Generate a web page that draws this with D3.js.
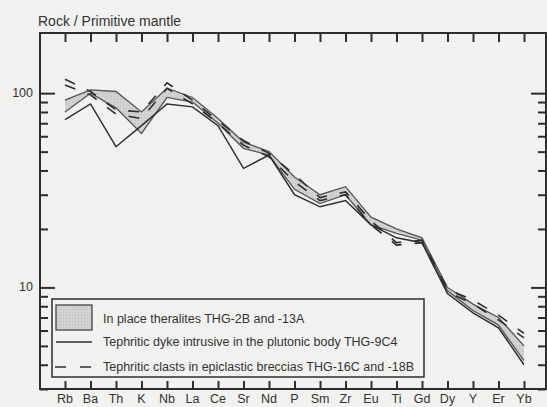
<!DOCTYPE html>
<html>
<head>
<meta charset="utf-8">
<script src="https://cdn.jsdelivr.net/npm/d3@7"></script>
<style>
  body { margin: 0; background: #f1f1ef; }
  text { font-family: "Liberation Sans", Arial, sans-serif; fill: #333; }
</style>
</head>
<body>
<script>
// elements on the x axis
var elements = ["Rb","Ba","Th","K","Nb","La","Ce","Sr","Nd","P","Sm","Zr","Eu","Ti","Gd","Dy","Y","Er","Yb"];

// theralites (shaded envelope)
var thg2B  = [92,104,102,80,106,95,74,56,50,37,30,33,23,20,18,10,8.2,7.0,5.0];
var thg13A = [80,100,84,62,95,90,70,52,48,32,27,30,21,19,17.5,9.6,7.6,6.4,4.2];
// dyke (solid)
var thg9C4 = [73,88,53,68,88,85,68,41,48,30,26,28,21,18,17,9.3,7.4,6.2,4.0];
// clasts (dashed)
var thg16C = [118,102,82,80,113,92,72,57,49,38,29,31,22,17,17.5,9.8,8.6,7.2,5.8];
var thg18B = [110,98,78,74,106,88,70,54,47,35,28,30,21,16.5,17,9.5,8.2,6.8,5.5];

var yMajor = [10,100];
var yMinor = [3,4,5,6,7,8,9,20,30,40,50,60,70,80,90];

var legendLabels = [
  "In place theralites THG-2B and -13A",
  "Tephritic dyke intrusive in the plutonic body THG-9C4",
  "Tephritic clasts in epiclastic breccias THG-16C and -18B"
];

function init(){
    var w = 547, h = 407;
    var left = 40, right = 546, top = 33, bottom = 389;

    var svg = d3.select("body").append("svg")
        .attr("width", w).attr("height", h);

    var x = d3.scalePoint().domain(elements).range([65, 524]);
    var y = d3.scaleLog().domain([3, 204]).range([bottom, top]);

    var ink = "#2e2e2e";

    // shaded band between the two theralites
    var pat = svg.append("defs").append("pattern")
        .attr("id", "dots").attr("width", 3).attr("height", 3)
        .attr("patternUnits", "userSpaceOnUse");
    pat.append("rect").attr("width", 3).attr("height", 3).attr("fill", "#d2d2d0");
    pat.append("rect").attr("width", 1).attr("height", 1).attr("fill", "#bdbdbb");

    var band = d3.area()
        .x(function(d, i){ return x(elements[i]); })
        .y0(function(d, i){ return y(thg13A[i]); })
        .y1(function(d){ return y(d); });

    svg.append("path").datum(thg2B)
        .attr("d", band).attr("fill", "url(#dots)");

    var line = d3.line()
        .x(function(d, i){ return x(elements[i]); })
        .y(function(d){ return y(d); });

    [thg2B, thg13A].forEach(function(s){
        svg.append("path").datum(s).attr("d", line)
            .attr("fill", "none").attr("stroke", "#555").attr("stroke-width", 1.3);
    });
    svg.append("path").datum(thg9C4).attr("d", line)
        .attr("fill", "none").attr("stroke", ink).attr("stroke-width", 1.5);
    [thg16C, thg18B].forEach(function(s){
        svg.append("path").datum(s).attr("d", line)
            .attr("fill", "none").attr("stroke", ink).attr("stroke-width", 1.6)
            .attr("stroke-dasharray", "11,13");
    });

    // frame
    svg.append("rect")
        .attr("x", left).attr("y", top)
        .attr("width", right - left).attr("height", bottom - top)
        .attr("fill", "none").attr("stroke", ink).attr("stroke-width", 2);

    // inward ticks
    var yTicks = yMajor.concat(yMinor);
    var gl = svg.append("g").attr("transform", "translate(" + left + ",0)")
        .call(d3.axisRight(y).tickValues(yTicks).tickFormat("").tickSize(8));
    var gr = svg.append("g").attr("transform", "translate(" + right + ",0)")
        .call(d3.axisLeft(y).tickValues(yTicks).tickFormat("").tickSize(8));
    var gt = svg.append("g").attr("transform", "translate(0," + top + ")")
        .call(d3.axisBottom(x).tickFormat("").tickSize(9));
    var gb = svg.append("g").attr("transform", "translate(0," + bottom + ")")
        .call(d3.axisTop(x).tickFormat("").tickSize(8));

    [gl, gr, gt, gb].forEach(function(g){
        g.select(".domain").remove();
        g.selectAll(".tick line").attr("stroke", ink).attr("stroke-width", 2);
    });
    gl.selectAll(".tick").filter(function(d){ return yMajor.indexOf(d) >= 0; })
        .select("line").attr("x2", 15);
    gr.selectAll(".tick").filter(function(d){ return yMajor.indexOf(d) >= 0; })
        .select("line").attr("x2", -15);

    // y labels
    svg.selectAll(".ylab").data(yMajor).enter().append("text")
        .attr("x", 33).attr("y", function(d){ return y(d) + 4; })
        .attr("text-anchor", "end").attr("font-size", 12.5)
        .text(function(d){ return d; });

    // x labels
    svg.selectAll(".xlab").data(elements).enter().append("text")
        .attr("x", function(d){ return x(d); }).attr("y", 403)
        .attr("text-anchor", "middle").attr("font-size", 12.5)
        .text(function(d){ return d; });

    svg.append("text").attr("x", 38).attr("y", 26)
        .attr("font-size", 14).text("Rock / Primitive mantle");

    // legend
    var lg = svg.append("g");
    lg.append("rect").attr("x", 52).attr("y", 299).attr("width", 372).attr("height", 78)
        .attr("fill", "#f1f1ef").attr("stroke", ink).attr("stroke-width", 1.5);
    lg.append("rect").attr("x", 56).attr("y", 305).attr("width", 36).attr("height", 25)
        .attr("fill", "url(#dots)").attr("stroke", "#444").attr("stroke-width", 1.3);
    lg.append("line").attr("x1", 56).attr("x2", 92).attr("y1", 342).attr("y2", 342)
        .attr("stroke", ink).attr("stroke-width", 1.5);
    lg.append("line").attr("x1", 55).attr("x2", 92).attr("y1", 367).attr("y2", 367)
        .attr("stroke", ink).attr("stroke-width", 1.6).attr("stroke-dasharray", "11,14");
    lg.selectAll("text").data(legendLabels).enter().append("text")
        .attr("x", 103).attr("y", function(d, i){ return [323, 346, 371][i]; })
        .attr("font-size", 12.5).text(function(d){ return d; });
}
window.onload = init;
</script>
</body>
</html>
